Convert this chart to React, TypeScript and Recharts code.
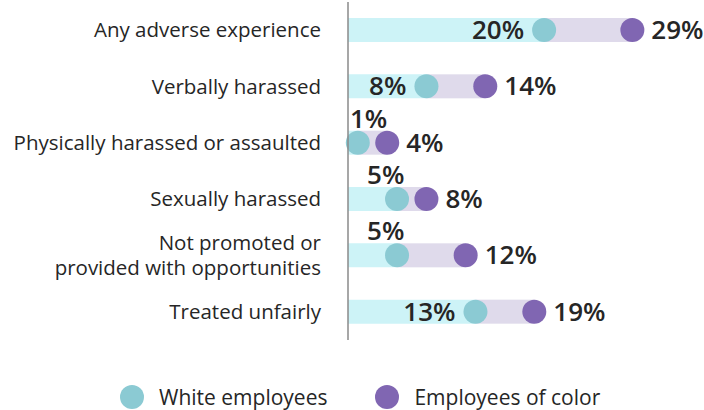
import React from "react";
import { ComposedChart, Bar, XAxis, YAxis } from "recharts";

// Categories and values
const categories = [
  "Any adverse experience",
  "Verbally harassed",
  "Physically harassed or assaulted",
  "Sexually harassed",
  "Not promoted or\nprovided with opportunities",
  "Treated unfairly",
];
const whiteEmployees = [20, 8, 1, 5, 5, 13];
const employeesOfColor = [29, 14, 4, 8, 12, 19];

const FONT = "'Open Sans', 'Noto Sans', sans-serif";
const TEXT = "#262626";
const CYAN_BAR = "#cdf3f7";
const LAVENDER_BAR = "#dfdaeb";
const TEAL = "#8bcad3";
const PURPLE = "#8066b2";

const AXIS_X = 348; // y-axis width == plot left edge
const DOT_R = 12;
const VALUE_SIZE = 26;

const data = categories.map((name, i) => ({
  name,
  white: whiteEmployees[i],
  gap: employeesOfColor[i] - whiteEmployees[i],
  color: employeesOfColor[i],
}));

const renderTick = (props: any) => {
  const { x, y, payload } = props;
  const lines = String(payload.value).split("\n");
  const lh = 25;
  const startY = y + 7 - ((lines.length - 1) * lh) / 2;
  return (
    <g>
      {lines.map((l, i) => (
        <text key={i} x={x} y={startY + i * lh} textAnchor="end" fontFamily={FONT} fontSize={20.5} fill={TEXT}>
          {l}
        </text>
      ))}
    </g>
  );
};

// draws the gap segment plus both dots and the value labels
const DumbbellShape = (props: any) => {
  const { x, y, width, height, payload } = props;
  const cy = y + height / 2;
  const x1 = x;
  const x2 = x + width;
  const wLabel = `${payload.white}%`;
  const cLabel = `${payload.color}%`;
  const fits = x1 - 20 - wLabel.length * 17 >= AXIS_X;
  return (
    <g>
      <rect x={x1} y={y} width={width} height={height} fill={LAVENDER_BAR} />
      <circle cx={x1} cy={cy} r={DOT_R} fill={TEAL} />
      <circle cx={x2} cy={cy} r={DOT_R} fill={PURPLE} />
      {fits ? (
        <text x={x1 - 20} y={cy + 9} textAnchor="end" fontFamily={FONT} fontSize={VALUE_SIZE} fontWeight={600} fill={TEXT}>
          {wLabel}
        </text>
      ) : (
        <text
          x={Math.max(AXIS_X + 2, x1 - 30)}
          y={cy - 15}
          textAnchor="start"
          fontFamily={FONT}
          fontSize={VALUE_SIZE}
          fontWeight={600}
          fill={TEXT}
        >
          {wLabel}
        </text>
      )}
      <text x={x2 + 19} y={cy + 9} textAnchor="start" fontFamily={FONT} fontSize={VALUE_SIZE} fontWeight={600} fill={TEXT}>
        {cLabel}
      </text>
    </g>
  );
};

const LegendItem = ({ color, label }: { color: string; label: string }) => (
  <div style={{ display: "flex", alignItems: "center", height: 24 }}>
    <div style={{ width: 24, height: 24, borderRadius: 12, backgroundColor: color }} />
    <span style={{ marginLeft: 15, fontSize: 21, lineHeight: "24px", color: TEXT }}>{label}</span>
  </div>
);

export default function App() {
  return (
    <div style={{ position: "absolute", left: 0, top: 0, width: 704, height: 410, background: "#fff", fontFamily: FONT }}>
      <ComposedChart
        width={704}
        height={345}
        data={data}
        layout="vertical"
        margin={{ top: 2, right: 3, left: 0, bottom: 5 }}
        barCategoryGap={0}
      >
        <XAxis type="number" domain={[0, 36]} hide />
        <YAxis
          type="category"
          dataKey="name"
          width={AXIS_X}
          tickLine={false}
          tickSize={0}
          tickMargin={27}
          axisLine={{ stroke: "#8a8a8a", strokeWidth: 1.5 }}
          tick={renderTick}
          interval={0}
        />
        <Bar dataKey="white" stackId="a" fill={CYAN_BAR} barSize={24} isAnimationActive={false} />
        <Bar dataKey="gap" stackId="a" barSize={24} shape={DumbbellShape} isAnimationActive={false} />
      </ComposedChart>
      <div style={{ position: "absolute", left: 120, top: 385, display: "flex", gap: 48 }}>
        <LegendItem color={TEAL} label="White employees" />
        <LegendItem color={PURPLE} label="Employees of color" />
      </div>
    </div>
  );
}
